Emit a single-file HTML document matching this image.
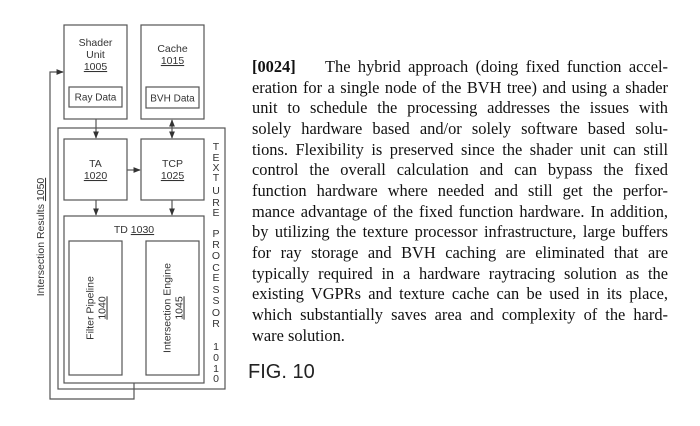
<!DOCTYPE html>
<html><head><meta charset="utf-8"><style>
html,body{margin:0;padding:0;background:#fff;width:700px;height:426px;overflow:hidden}
.p{position:absolute;left:252px;width:416px;font-family:"Liberation Serif",serif;font-size:16.4px;color:#111;}
.l{height:20.67px;line-height:20.67px;text-align:justify;text-align-last:justify;white-space:nowrap}
.l.last{text-align-last:left}
</style></head><body>
<svg width="700" height="426" style="position:absolute;left:0;top:0" font-family="Liberation Sans, DejaVu Sans, sans-serif" font-size="10.5" fill="#333">
<defs><marker id="a" viewBox="0 0 10 10" refX="9" refY="5" markerWidth="6" markerHeight="6" orient="auto-start-reverse"><path d="M0,1 L10,5 L0,9z" fill="#333"/></marker></defs>
<g fill="none" stroke="#555" stroke-width="1.2">
<rect x="64" y="25" width="63" height="94"/>
<rect x="141" y="25" width="63" height="94"/>
<rect x="69" y="87" width="53" height="20"/>
<rect x="146" y="87" width="53" height="21"/>
<rect x="58" y="128" width="167" height="261"/>
<rect x="64" y="139" width="63" height="61"/>
<rect x="141" y="139" width="63" height="61"/>
<rect x="64" y="216" width="140" height="167"/>
<rect x="69" y="241" width="53" height="134"/>
<rect x="146" y="241" width="53" height="134"/>
<polyline points="134,383 134,399 50,399 50,72 63,72" marker-end="url(#a)"/>
<line x1="96" y1="119" x2="96" y2="138" marker-end="url(#a)"/>
<line x1="172" y1="120" x2="172" y2="138" marker-end="url(#a)" marker-start="url(#a)"/>
<line x1="127" y1="170" x2="140" y2="170" marker-end="url(#a)"/>
<line x1="96" y1="200" x2="96" y2="215" marker-end="url(#a)"/>
<line x1="172" y1="200" x2="172" y2="215" marker-end="url(#a)"/>
</g>
<g text-anchor="middle">
<text x="95.5" y="46">Shader</text><text x="95.5" y="58">Unit</text><text x="95.5" y="70" text-decoration="underline">1005</text>
<text x="172.5" y="52">Cache</text><text x="172.5" y="64" text-decoration="underline">1015</text>
<text x="95.5" y="100.5" font-size="10">Ray Data</text>
<text x="172.5" y="101.5" font-size="10">BVH Data</text>
<text x="95.5" y="167">TA</text><text x="95.5" y="179" text-decoration="underline">1020</text>
<text x="172.5" y="167">TCP</text><text x="172.5" y="179" text-decoration="underline">1025</text>
<text x="134" y="233">TD <tspan text-decoration="underline">1030</tspan></text>
<text transform="translate(95.5,308) rotate(-90)" y="-2">Filter Pipeline</text>
<text transform="translate(95.5,308) rotate(-90)" y="10" text-decoration="underline">1040</text>
<text transform="translate(172.5,308) rotate(-90)" y="-2">Intersection Engine</text>
<text transform="translate(172.5,308) rotate(-90)" y="10" text-decoration="underline">1045</text>
<text transform="translate(44,237) rotate(-90)">Intersection Results <tspan text-decoration="underline">1050</tspan></text>
<text x="216" y="150">T</text><text x="216" y="161">E</text><text x="216" y="171">X</text><text x="216" y="181">T</text><text x="216" y="194">U</text><text x="216" y="206">R</text><text x="216" y="216">E</text>
<text x="216" y="237">P</text><text x="216" y="248">R</text><text x="216" y="259">O</text><text x="216" y="271">C</text><text x="216" y="281">E</text><text x="216" y="293">S</text><text x="216" y="304">S</text><text x="216" y="316">O</text><text x="216" y="327">R</text>
<text x="216" y="350">1</text><text x="216" y="361">0</text><text x="216" y="372">1</text><text x="216" y="382">0</text>
</g>
<text x="248" y="378" font-size="20" fill="#222">FIG. 10</text>
</svg>
<div class="p" style="top:57px">
<div class="l"><b>[0024]</b>&nbsp;&nbsp;&nbsp; The hybrid approach (doing fixed function accel-</div>
<div class="l">eration for a single node of the BVH tree) and using a shader</div>
<div class="l">unit to schedule the processing addresses the issues with</div>
<div class="l">solely hardware based and/or solely software based solu-</div>
<div class="l">tions. Flexibility is preserved since the shader unit can still</div>
<div class="l">control the overall calculation and can bypass the fixed</div>
<div class="l">function hardware where needed and still get the perfor-</div>
<div class="l">mance advantage of the fixed function hardware. In addition,</div>
<div class="l">by utilizing the texture processor infrastructure, large buffers</div>
<div class="l">for ray storage and BVH caching are eliminated that are</div>
<div class="l">typically required in a hardware raytracing solution as the</div>
<div class="l">existing VGPRs and texture cache can be used in its place,</div>
<div class="l">which substantially saves area and complexity of the hard-</div>
<div class="l last">ware solution.</div>
</div>
</body></html>
